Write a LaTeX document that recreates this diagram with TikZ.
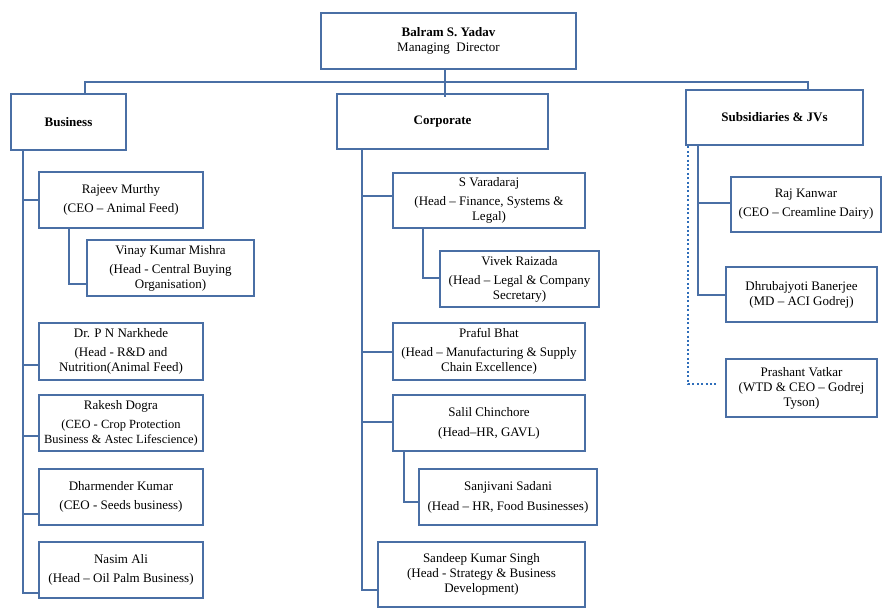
\documentclass[tikz,border=0pt]{standalone}
\usepackage{fontspec}
\setmainfont{Liberation Serif}
\definecolor{lineblue}{HTML}{4A6FA5}
\definecolor{dotblue}{HTML}{2F6EBA}
\tikzset{
  box/.style={draw=lineblue, line width=2.8pt, fill=white, align=center, inner sep=2pt,
    font=\fontsize{13}{15}\selectfont},
  headbox/.style={box, font=\fontsize{13}{15}\selectfont\bfseries},
  conn/.style={draw=lineblue, line width=2.6pt},
  dotconn/.style={draw=dotblue, line width=2.8pt, dash pattern=on 2pt off 2.4pt}
}
\begin{document}
\begin{tikzpicture}[x=1pt,y=-1pt]
\useasboundingbox (0,0) rectangle (889,611);
% top
\node[box, minimum width=255, minimum height=56] (md) at (448.5,41)
  {\textbf{Balram S. Yadav}\\Managing\ \ Director};
\node[headbox, minimum width=115, minimum height=56] (bus) at (68.5,122) {Business};
\node[headbox, minimum width=211, minimum height=55] (corp) at (442.5,121.5) {Corporate};
\node[headbox, minimum width=177, minimum height=55] (subs) at (774.5,117.5) {Subsidiaries \& JVs};
\coordinate (hub) at (445,82);
\coordinate (busj) at (85,82);
\coordinate (subsj) at (808,82);
\draw[conn] (bus.north -| busj) -- (busj) -- (subsj) -- (subs.north -| subsj);
\draw[conn] (md.south -| hub) -- (hub |- 0,97);
% business column
\node[box, minimum width=164, minimum height=56] (rajeev) at (121,200)
  {Rajeev Murthy\\[4pt](CEO – Animal Feed)};
\node[box, minimum width=167, minimum height=56] (vinay) at (170.5,268)
  {Vinay Kumar Mishra\\[4pt](Head - Central Buying\\Organisation)};
\node[box, minimum width=164, minimum height=57] (nark) at (121,351.5)
  {Dr. P N Narkhede\\[4pt](Head - R\&D and\\Nutrition(Animal Feed)};
\node[box, minimum width=164, minimum height=56] (rakesh) at (121,423)
  {Rakesh Dogra\\[4pt]{\fontsize{12.5}{13}\selectfont(CEO - Crop Protection}\\{\fontsize{12.5}{13}\selectfont Business \& Astec Lifescience)}};
\node[box, minimum width=164, minimum height=56] (dharm) at (121,497)
  {Dharmender Kumar\\[4pt](CEO - Seeds business)};
\node[box, minimum width=164, minimum height=56] (nasim) at (121,570)
  {Nasim Ali\\[4pt](Head – Oil Palm Business)};
\coordinate (bsp) at (23,0);
\draw[conn] (bus.south -| bsp) -- (bsp |- 0,593) -- (nasim.west |- 0,593);
\draw[conn] (bsp |- rajeev.west) -- (rajeev.west);
\draw[conn] (bsp |- 0,365) -- (nark.west |- 0,365);
\draw[conn] (bsp |- 0,436) -- (rakesh.west |- 0,436);
\draw[conn] (bsp |- 0,514) -- (dharm.west |- 0,514);
\draw[conn] (rajeev.south -| 69,0) |- (vinay.west |- 0,284);
% corporate column
\node[box, minimum width=192, minimum height=55] (varad) at (489,200.5)
  {S Varadaraj\\[4pt](Head – Finance, Systems \&\\Legal)};
\node[box, minimum width=159, minimum height=56] (vivek) at (519.5,279)
  {Vivek Raizada\\[4pt](Head – Legal \& Company\\Secretary)};
\node[box, minimum width=192, minimum height=57] (praful) at (489,351.5)
  {Praful Bhat\\[4pt](Head – Manufacturing \& Supply\\Chain Excellence)};
\node[box, minimum width=192, minimum height=56] (salil) at (489,423)
  {Salil Chinchore\\[5pt](Head–HR, GAVL)};
\node[box, minimum width=178, minimum height=56] (sanji) at (508,497)
  {Sanjivani Sadani\\[5pt](Head – HR, Food Businesses)};
\node[box, minimum width=207, minimum height=65] (sandeep) at (481.5,574.5)
  {Sandeep Kumar Singh\\(Head - Strategy \& Business\\Development)};
\coordinate (csp) at (362,0);
\draw[conn] (corp.south -| csp) -- (csp |- 0,590) -- (sandeep.west |- 0,590);
\draw[conn] (csp |- 0,196) -- (varad.west |- 0,196);
\draw[conn] (csp |- 0,352) -- (praful.west |- 0,352);
\draw[conn] (csp |- 0,422) -- (salil.west |- 0,422);
\draw[conn] (varad.south -| 423,0) |- (vivek.west |- 0,278);
\draw[conn] (salil.south -| 404,0) |- (sanji.west |- 0,502);
% subsidiaries column
\node[box, minimum width=150, minimum height=55] (raj) at (806,204.5)
  {Raj Kanwar\\[4pt](CEO – Creamline Dairy)};
\node[box, minimum width=151, minimum height=55] (dhru) at (801.5,294.5)
  {Dhrubajyoti Banerjee\\(MD – ACI Godrej)};
\node[box, minimum width=151, minimum height=58] (prash) at (801.5,388)
  {Prashant Vatkar\\(WTD \& CEO – Godrej\\Tyson)};
\coordinate (ssp) at (698,0);
\draw[conn] (subs.south -| ssp) -- (ssp |- 0,295) -- (dhru.west |- 0,295);
\draw[conn] (ssp |- 0,203) -- (raj.west |- 0,203);
\coordinate (dotend) at (717,384);
\draw[dotconn] (subs.south -| 688,0) -- (688,384) -- (dotend);
\end{tikzpicture}
\end{document}
